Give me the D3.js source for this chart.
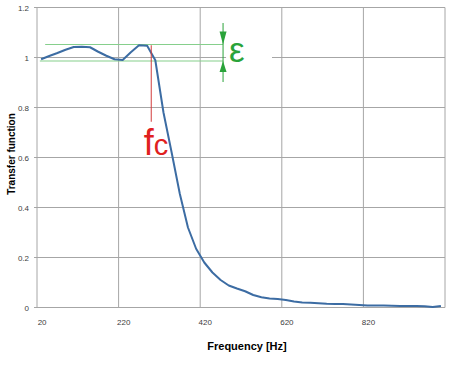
<!DOCTYPE html>
<html>
<head>
<meta charset="utf-8">
<script src="https://cdn.jsdelivr.net/npm/d3@7/dist/d3.min.js"></script>
<style>
  body { margin: 0; background: #fff; }
  text { font-family: "Liberation Sans", Arial, sans-serif; }
</style>
</head>
<body>
<svg id="chart" width="450" height="365"></svg>
<script>
// frequency categories (Hz) and transfer function values
const freqs = d3.range(20, 1001, 20);
const values = [0.993, 1.006, 1.018, 1.031, 1.042, 1.043, 1.041, 1.023, 1.007, 0.993,
                0.990, 1.021, 1.049, 1.047, 0.989, 0.780, 0.620, 0.455, 0.320, 0.235,
                0.180, 0.140, 0.110, 0.088, 0.076, 0.065, 0.050, 0.041, 0.036, 0.034,
                0.030, 0.024, 0.020, 0.019, 0.017, 0.015, 0.014, 0.014, 0.012, 0.010,
                0.008, 0.008, 0.008, 0.007, 0.006, 0.006, 0.006, 0.005, 0.002, 0.006];
const xTickLabels = [20, 220, 420, 620, 820];
const yTicks = [0, 0.2, 0.4, 0.6, 0.8, 1, 1.2];
// annotation values
const epsBand = [0.986, 1.052];
const fcFreq = 290;
const arrowFreq = 466;

const svg = d3.select('#chart');
const margin = { left: 37, right: 5, top: 7.5, bottom: 57.5 };
const width = +svg.attr('width');
const height = +svg.attr('height');

const x = d3.scaleBand().domain(freqs).range([margin.left, width - margin.right]).padding(0);
// continuous version of the same axis (category edges at f-10)
const xc = d3.scaleLinear().domain([10, 1010]).range([margin.left, width - margin.right]);
const y = d3.scaleLinear().domain([0, 1.2]).range([height - margin.bottom, margin.top]);
const cx = f => x(f) + x.bandwidth() / 2;

const grid = '#a6a6a6';

// horizontal gridlines
svg.append('g').selectAll('line')
    .data(yTicks.filter(d => d > 0))
    .enter().append('line')
    .attr('x1', margin.left - 3).attr('x2', xc(1010))
    .attr('y1', d => y(d)).attr('y2', d => y(d))
    .attr('stroke', grid).attr('stroke-width', 1);

// vertical gridlines on category boundaries
svg.append('g').selectAll('line')
    .data([210, 410, 610, 810, 1010])
    .enter().append('line')
    .attr('x1', d => xc(d)).attr('x2', d => xc(d))
    .attr('y1', y(1.2)).attr('y2', y(0))
    .attr('stroke', grid).attr('stroke-width', 1);

// axes lines
svg.append('line').attr('x1', margin.left).attr('x2', margin.left)
    .attr('y1', y(1.2)).attr('y2', y(0)).attr('stroke', grid);
svg.append('line').attr('x1', margin.left - 3).attr('x2', xc(1010))
    .attr('y1', y(0)).attr('y2', y(0)).attr('stroke', grid);

// y tick labels
svg.append('g').selectAll('text')
    .data(yTicks)
    .enter().append('text')
    .attr('x', 29).attr('y', d => y(d) + 3)
    .attr('text-anchor', 'end')
    .attr('font-size', 8).attr('fill', '#404040')
    .text(d => d);

// x tick labels
svg.append('g').selectAll('text')
    .data(xTickLabels)
    .enter().append('text')
    .attr('x', d => cx(d) + 1).attr('y', 324.5)
    .attr('text-anchor', 'middle')
    .attr('font-size', 8).attr('fill', '#404040')
    .text(d => d);

// white box behind epsilon
svg.append('rect')
    .attr('x', xc(arrowFreq) + 3).attr('y', y(1.12))
    .attr('width', xc(586) - xc(arrowFreq) - 3).attr('height', y(0.9) - y(1.12))
    .attr('fill', '#fff');

// epsilon band lines
const green = '#2aa33a';
svg.append('line').attr('x1', xc(30)).attr('x2', xc(arrowFreq))
    .attr('y1', y(epsBand[1])).attr('y2', y(epsBand[1]))
    .attr('stroke', '#86cf8c').attr('stroke-width', 1.2);
svg.append('line').attr('x1', xc(17)).attr('x2', xc(arrowFreq))
    .attr('y1', y(epsBand[0])).attr('y2', y(epsBand[0]))
    .attr('stroke', '#86cf8c').attr('stroke-width', 1.2);

// curve
svg.append('path')
    .datum(freqs.map((f, i) => ({ f: f, v: values[i] })))
    .attr('fill', 'none')
    .attr('stroke', '#3c6ca3')
    .attr('stroke-width', 2)
    .attr('stroke-linejoin', 'round')
    .attr('d', d3.line().x(d => cx(d.f)).y(d => y(d.v)));

// fc marker
svg.append('line').attr('x1', xc(fcFreq)).attr('x2', xc(fcFreq))
    .attr('y1', y(1.049)).attr('y2', y(0.743))
    .attr('stroke', '#d23c3c').attr('stroke-width', 1);
const fc = svg.append('text').attr('x', xc(fcFreq) - 7.5).attr('y', 155)
    .attr('fill', '#e0201e');
fc.append('tspan').attr('font-size', 36).text('f');
fc.append('tspan').attr('font-size', 29).text('c');

// epsilon arrows
const ax = xc(arrowFreq);
svg.append('line').attr('x1', ax).attr('x2', ax)
    .attr('y1', 23).attr('y2', 82)
    .attr('stroke', green).attr('stroke-width', 1);
svg.append('path')
    .attr('d', `M${ax - 3.5},${31.5} L${ax + 3.5},${31.5} L${ax},${y(epsBand[1])} Z`)
    .attr('fill', green);
svg.append('path')
    .attr('d', `M${ax - 3.5},${72} L${ax + 3.5},${72} L${ax},${y(epsBand[0])} Z`)
    .attr('fill', green);
svg.append('text').attr('x', ax + 6).attr('y', 62)
    .attr('font-size', 35).attr('fill', green)
    .text('ε');

// axis titles
svg.append('text')
    .attr('x', 247).attr('y', 350)
    .attr('text-anchor', 'middle')
    .attr('font-size', 11).attr('font-weight', 'bold').attr('fill', '#000')
    .text('Frequency [Hz]');
svg.append('text')
    .attr('transform', 'translate(15,154) rotate(-90)')
    .attr('text-anchor', 'middle')
    .attr('font-size', 10).attr('font-weight', 'bold').attr('fill', '#000')
    .text('Transfer function');
</script>
</body>
</html>
